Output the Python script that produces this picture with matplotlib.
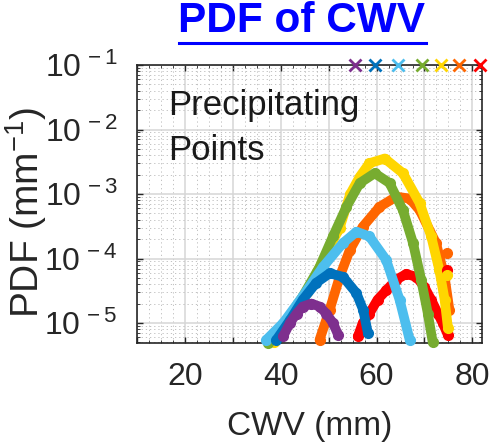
import numpy as np
import matplotlib
matplotlib.use("Agg")
from matplotlib import pyplot as plt
from matplotlib.ticker import FixedLocator, FuncFormatter, LogLocator, NullFormatter
from matplotlib.lines import Line2D

plt.rcParams['font.family'] = ['Liberation Sans', 'DejaVu Sans']
plt.rcParams['mathtext.fontset'] = 'custom'
plt.rcParams['mathtext.rm'] = 'Liberation Sans'
plt.rcParams['mathtext.it'] = 'Liberation Sans:italic'
plt.rcParams['mathtext.bf'] = 'Liberation Sans:bold'

# colours of the groups (MATLAB-like)
purple = (0.494, 0.184, 0.556)
blue = (0.0, 0.447, 0.741)
lblue = (0.301, 0.745, 0.933)
green = (0.466, 0.674, 0.188)
yellow = (1.0, 0.84, 0.0)
orange = (1.0, 0.4, 0.0)
red = (1.0, 0.0, 0.0)

# PDF curves: CWV (mm), PDF (mm^-1)
purple_x = [40.5, 41.9, 43.3, 44.6, 46.4, 48.1, 49.5, 50.9, 52.0]
purple_y = [6.2e-6, 1.0e-5, 1.4e-5, 1.8e-5, 2.0e-5, 1.8e-5, 1.4e-5, 1.0e-5, 6.5e-6]

blue_x = [39.1, 41.9, 44.6, 47.4, 50.2, 53.0, 55.8, 57.2, 58.2]
blue_y = [5.5e-6, 1.1e-5, 2.3e-5, 4.2e-5, 5.9e-5, 5.2e-5, 2.9e-5, 1.6e-5, 6.9e-6]

lblue_x = [37.0, 40.5, 44.6, 48.8, 53.0, 55.8, 58.5, 62.0, 64.8, 66.9]
lblue_y = [5.5e-6, 1.0e-5, 2.6e-5, 7.4e-5, 1.74e-4, 2.6e-4, 2.2e-4, 9.5e-5, 2.3e-5, 5.5e-6]

green_x = [37.4, 41.2, 44.6, 48.1, 50.9, 53.7, 56.5, 59.6, 62.7, 65.5, 67.6, 69.3, 70.7, 71.7]
green_y = [4.9e-6, 1.1e-5, 2.6e-5, 7.4e-5, 2.2e-4, 6.3e-4, 1.48e-3, 2.1e-3, 1.48e-3, 5.6e-4,
           1.74e-4, 4.7e-5, 1.4e-5, 5.1e-6]

yellow_x = [38.5, 42.0, 45.5, 49.0, 52.3, 54.5, 56.5, 58.5, 61.7, 65.5, 69.0, 71.4, 73.1, 74.2, 74.9]
yellow_y = [5.0e-6, 1.1e-5, 3.0e-5, 1.0e-4, 3.0e-4, 1.0e-3, 1.86e-3, 3.0e-3, 3.55e-3, 2.1e-3,
            7.2e-4, 2.2e-4, 6.6e-5, 2.3e-5, 8.3e-6]

orange_x = [48.1, 50.2, 52.3, 54.4, 57.1, 60.6, 64.1, 66.9, 69.0, 72.4, 74.2, 75.2]
orange_y = [5.5e-6, 1.6e-5, 5.2e-5, 1.35e-4, 3.1e-4, 6.3e-4, 9.1e-4, 8.5e-4, 5.6e-4, 1.74e-4,
            5.2e-5, 1.6e-5]

red_x = [56.1, 57.1, 58.5, 60.2, 62.0, 64.1, 66.2, 68.3, 70.0, 71.4, 72.8, 73.8, 74.9]
red_y = [6.2e-6, 1.0e-5, 1.4e-5, 2.3e-5, 3.2e-5, 4.7e-5, 5.75e-5, 5.2e-5, 3.6e-5, 2.3e-5,
         1.4e-5, 1.0e-5, 6.5e-6]

# lone points at the high CWV end
tail_x = [74.8, 74.8, 74.8]
tail_y = [1.23e-4, 6.6e-5, 5.5e-5]
tail_c = [orange, red, yellow]

# crosses along the top
cross_x = [55.4, 59.6, 64.4, 69.4, 73.5, 77.3, 81.5]
cross_c = [purple, blue, lblue, green, yellow, orange, red]

xticks = [10, 20, 30, 40, 50, 60, 70, 80]
xlabels = ['', '20', '', '40', '', '60', '', '80']
yticks = [1e-5, 1e-4, 1e-3, 1e-2, 1e-1]

fig = plt.figure(figsize=(4.91, 4.47), dpi=100)
ax = fig.add_axes([137 / 491, 104 / 447, 345 / 491, 278 / 447])

curves = [(red_x, red_y, red), (orange_x, orange_y, orange), (yellow_x, yellow_y, yellow),
          (green_x, green_y, green), (lblue_x, lblue_y, lblue), (blue_x, blue_y, blue),
          (purple_x, purple_y, purple)]
for xs, ys, c in curves:
    ax.plot(xs, ys, '-o', color=c, lw=7, ms=7, solid_capstyle='round',
            solid_joinstyle='round', clip_on=False, zorder=3)

for xv, yv, c in zip(tail_x, tail_y, tail_c):
    ax.plot(xv, yv, 'o', color=c, ms=7, clip_on=False, zorder=3)

for xv, c in zip(cross_x, cross_c):
    ax.plot(xv, 1e-1, 'x', color=c, ms=9, mew=2, clip_on=False, zorder=5)

ax.set_yscale('log')
ax.set_xlim(10, 82)
ax.set_ylim(4.9e-6, 1e-1)

ax.xaxis.set_major_locator(FixedLocator(xticks))
ax.set_xticklabels(xlabels)
ax.xaxis.set_minor_locator(FixedLocator(np.arange(10, 82.1, 2.5)))
ax.yaxis.set_major_locator(FixedLocator(yticks))
ax.yaxis.set_major_formatter(FuncFormatter(
    lambda v, p: r'$\mathregular{10^{\,%d}}$' % int(round(np.log10(v)))))
ax.yaxis.set_minor_locator(LogLocator(base=10, subs=np.arange(2, 10), numticks=20))
ax.yaxis.set_minor_formatter(NullFormatter())

ax.grid(True, which='major', color='#d6d6d6', lw=1.1, ls='-')
ax.grid(True, which='minor', color='#b8b8b8', lw=0.6, ls=(0, (1.5, 3.5)))
ax.set_axisbelow(True)

ax.tick_params(which='both', direction='in', top=True, right=True, colors='#262626')
ax.tick_params(which='major', length=4, width=1)
ax.tick_params(which='minor', length=2, width=0.6)
ax.tick_params(axis='x', which='major', labelsize=23, pad=14)
ax.tick_params(axis='y', which='major', labelsize=23, pad=14)
for s in ax.spines.values():
    s.set_color('#262626')
    s.set_linewidth(1.2)

ax.set_xlabel('CWV (mm)', fontsize=24, color='#262626', labelpad=13)
ax.set_ylabel(r'PDF (mm$^{\mathregular{-1}}$)', fontsize=28, color='#262626')
ax.yaxis.set_label_coords(-0.255, 0.47)

ax.text(0.09, 0.82, 'Precipitating', transform=ax.transAxes, fontsize=25,
        color='#1a1a1a', va='baseline', ha='left')
ax.text(0.09, 0.658, 'Points', transform=ax.transAxes, fontsize=25,
        color='#1a1a1a', va='baseline', ha='left')

title = fig.text(302 / 491, 1 - 21 / 447, 'PDF of CWV', fontsize=30.5, fontweight='bold',
                 color='#0000ff', ha='center', va='center')
fig.canvas.draw()
bb = title.get_window_extent(fig.canvas.get_renderer())
fy = 1 - 43 / 447
fig.add_artist(Line2D([bb.x0 / 491, bb.x1 / 491], [fy, fy], color='#0000ff', lw=2.2))

fig.savefig('out.png', dpi=100)
